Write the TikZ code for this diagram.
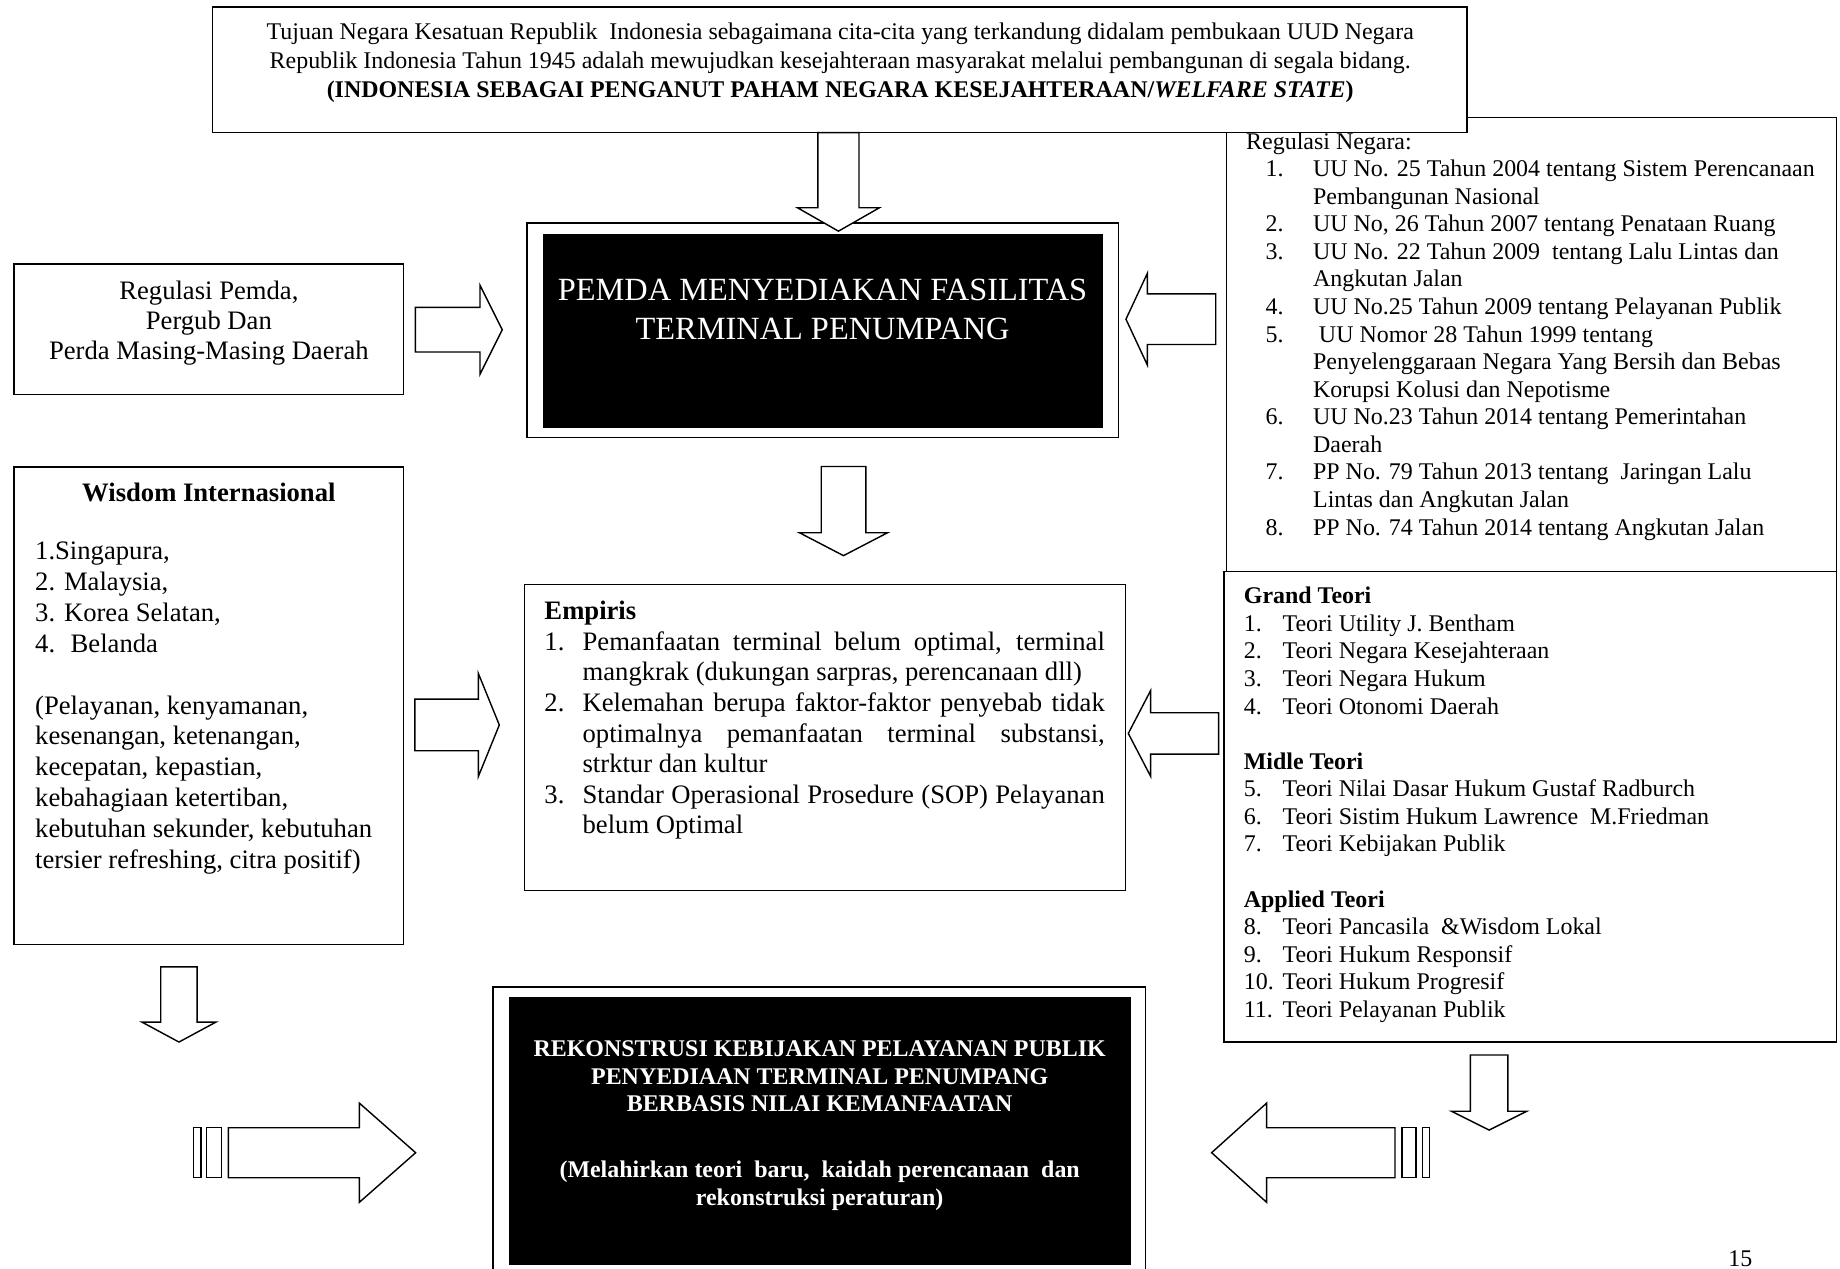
\documentclass[tikz,border=0pt]{standalone}
\usepackage{fontspec}
\setmainfont{Liberation Serif}
\usepackage{array}
\newcommand\fsz[2]{\fontsize{#1}{#2}\selectfont}
% horizontal block arrow: #1 shaft end x, #2 head base x, #3 tip x, #4 centre y, #5 shaft half, #6 head half, #7 tip name
\newcommand\hblockarrow[7]{\draw[blk] (#1,#4-#5) -- (#2,#4-#5) -- (#2,#4-#6) -- (#3,#4) coordinate (#7) -- (#2,#4+#6) -- (#2,#4+#5) -- (#1,#4+#5) -- cycle;}
% vertical block arrow: #1 centre x, #2 shaft top, #3 head base y, #4 tip y, #5 shaft half, #6 head half, #7 tip name
\newcommand\vblockarrow[7]{\draw[blk] (#1-#5,#2) -- (#1-#5,#3) -- (#1-#6,#3) -- (#1,#4) coordinate (#7) -- (#1+#6,#3) -- (#1+#5,#3) -- (#1+#5,#2) -- cycle;}
\begin{document}
\begin{tikzpicture}[x=0.5pt,y=-0.5pt,
  box/.style={draw=black,line width=0.6pt,fill=white,inner sep=0pt,outer sep=0pt,anchor=north west},
  darkbox/.style={box,fill=black},
  blk/.style={draw=black,line width=0.6pt,fill=white,line join=miter},
  txt/.style={inner sep=0pt,outer sep=0pt},
  wtxt/.style={txt,text=white}]
\path[use as bounding box] (0,0) rectangle (1568,1081);
\clip (0,0) rectangle (1568,1081);

% ---------- boxes ----------
\node[box,minimum width=260pt,minimum height=193.5pt] (regneg) at (1045,100) {};
\node[box,minimum width=534.5pt,minimum height=53.5pt] (tujuan) at (181,6) {};
\node[box,minimum width=261pt,minimum height=200.5pt] (teori) at (1043,487) {};
\node[box,minimum width=252pt,minimum height=91.5pt] (pemda) at (449,190) {};
\node[darkbox,minimum width=238pt,minimum height=82pt] (pemdain) at (463,200) {};
\node[box,minimum width=166pt,minimum height=55.5pt] (regpemda) at (12,225) {};
\node[box,minimum width=166pt,minimum height=203.5pt] (wisdom) at (12,398) {};
\node[box,minimum width=256pt,minimum height=130.5pt] (empiris) at (447,498) {};
\node[box,minimum width=278pt,minimum height=124.5pt] (rek) at (420,841) {};
\node[darkbox,minimum width=264.5pt,minimum height=113.5pt] (rekin) at (434,850) {};

% ---------- texts ----------
\node[txt,anchor=base] (tujuantext) at (716,34) {\fsz{10.2}{12.25}\begin{tabular}[t]{@{}c@{}}
Tujuan Negara Kesatuan Republik~ Indonesia sebagaimana cita-cita yang terkandung didalam pembukaan UUD Negara\\
Republik Indonesia Tahun 1945 adalah mewujudkan kesejahteraan masyarakat melalui pembangunan di segala bidang.\\
\textbf{(INDONESIA SEBAGAI PENGANUT PAHAM NEGARA KESEJAHTERAAN/\textit{WELFARE STATE})}
\end{tabular}};

\node[txt,anchor=base west] (regnegtext) at (1062,127) {\fsz{10.2}{11.75}\begin{tabular}[t]{@{}l@{}}
Regulasi Negara:\\
\hspace*{8.25pt}\makebox[20.25pt][l]{1.}UU No. 25 Tahun 2004 tentang Sistem Perencanaan\\
\hspace*{28.5pt}Pembangunan Nasional\\
\hspace*{8.25pt}\makebox[20.25pt][l]{2.}UU No, 26 Tahun 2007 tentang Penataan Ruang\\
\hspace*{8.25pt}\makebox[20.25pt][l]{3.}UU No. 22 Tahun 2009~ tentang Lalu Lintas dan\\
\hspace*{28.5pt}Angkutan Jalan\\
\hspace*{8.25pt}\makebox[20.25pt][l]{4.}UU No.25 Tahun 2009 tentang Pelayanan Publik\\
\hspace*{8.25pt}\makebox[20.25pt][l]{5.}\hspace*{2.5pt}UU Nomor 28 Tahun 1999 tentang\\
\hspace*{28.5pt}Penyelenggaraan Negara Yang Bersih dan Bebas\\
\hspace*{28.5pt}Korupsi Kolusi dan Nepotisme\\
\hspace*{8.25pt}\makebox[20.25pt][l]{6.}UU No.23 Tahun 2014 tentang Pemerintahan\\
\hspace*{28.5pt}Daerah\\
\hspace*{8.25pt}\makebox[20.25pt][l]{7.}PP No. 79 Tahun 2013 tentang~ Jaringan Lalu\\
\hspace*{28.5pt}Lintas dan Angkutan Jalan\\
\hspace*{8.25pt}\makebox[20.25pt][l]{8.}PP No. 74 Tahun 2014 tentang Angkutan Jalan
\end{tabular}};

\node[txt,anchor=base west] (teoritext) at (1060,514.5) {\fsz{10.2}{11.75}\begin{tabular}[t]{@{}l@{}}
\textbf{Grand Teori}\\
\makebox[16.5pt][l]{1.}Teori Utility J. Bentham\\
\makebox[16.5pt][l]{2.}Teori Negara Kesejahteraan\\
\makebox[16.5pt][l]{3.}Teori Negara Hukum\\
\makebox[16.5pt][l]{4.}Teori Otonomi Daerah\\
\\
\textbf{Midle Teori}\\
\makebox[16.5pt][l]{5.}Teori Nilai Dasar Hukum Gustaf Radburch\\
\makebox[16.5pt][l]{6.}Teori Sistim Hukum Lawrence~ M.Friedman\\
\makebox[16.5pt][l]{7.}Teori Kebijakan Publik\\
\\
\textbf{Applied Teori}\\
\makebox[16.5pt][l]{8.}Teori Pancasila~ \&Wisdom Lokal\\
\makebox[16.5pt][l]{9.}Teori Hukum Responsif\\
\makebox[16.5pt][l]{10.}Teori Hukum Progresif\\
\makebox[16.5pt][l]{11.}Teori Pelayanan Publik
\end{tabular}};

\node[wtxt,anchor=base] (pemdatext) at (701,256) {\fsz{13.8}{16.5}\begin{tabular}[t]{@{}c@{}}
PEMDA MENYEDIAKAN FASILITAS\\
TERMINAL PENUMPANG
\end{tabular}};

\node[txt,anchor=base] (regpemdatext) at (178,255) {\fsz{11.35}{12.9}\begin{tabular}[t]{@{}c@{}}
Regulasi Pemda,\\
Pergub Dan\\
Perda Masing-Masing Daerah
\end{tabular}};

\node[txt,anchor=base] (wisdomtitle) at (178,427) {\fsz{11.35}{13}\textbf{Wisdom Internasional}};
\node[txt,anchor=base west] (wisdomtext) at (30,477) {\fsz{11.35}{13.15}\begin{tabular}[t]{@{}l@{}}
1.Singapura,\\
2. Malaysia,\\
3. Korea Selatan,\\
4.~ Belanda\\
\\
(Pelayanan, kenyamanan,\\
kesenangan, ketenangan,\\
kecepatan, kepastian,\\
kebahagiaan ketertiban,\\
kebutuhan sekunder, kebutuhan\\
tersier refreshing, citra positif)
\end{tabular}};

\node[txt,anchor=base west] (empiristext) at (464,528) {\fsz{11.35}{13.05}\begin{tabular}[t]{@{}l@{}}
\textbf{Empiris}\\
\makebox[16.25pt][l]{1.}\makebox[222.5pt][s]{Pemanfaatan terminal belum optimal, terminal}\\
\hspace*{16.25pt}mangkrak (dukungan sarpras, perencanaan dll)\\
\makebox[16.25pt][l]{2.}\makebox[222.5pt][s]{Kelemahan berupa faktor-faktor penyebab tidak}\\
\hspace*{16.25pt}\makebox[222.5pt][s]{optimalnya pemanfaatan terminal substansi,}\\
\hspace*{16.25pt}strktur dan kultur\\
\makebox[16.25pt][l]{3.}\makebox[222.5pt][s]{Standar Operasional Prosedure (SOP) Pelayanan}\\
\hspace*{16.25pt}belum Optimal
\end{tabular}};

\node[wtxt,anchor=base] (rektext) at (698.5,900.5) {\fsz{10.2}{11.75}\bfseries\begin{tabular}[t]{@{}c@{}}
REKONSTRUSI KEBIJAKAN PELAYANAN PUBLIK\\
PENYEDIAAN TERMINAL PENUMPANG\\
BERBASIS NILAI KEMANFAATAN
\end{tabular}};
\node[wtxt,anchor=base] (rektext2) at (698.5,1003.5) {\fsz{10.2}{11.75}\bfseries\begin{tabular}[t]{@{}c@{}}
(Melahirkan teori~ baru,~ kaidah perencanaan~ dan\\
rekonstruksi peraturan)
\end{tabular}};

\node[txt,anchor=base] (pagenum) at (1483,1079) {\fsz{10.2}{12}15};

% ---------- block arrows ----------
\vblockarrow{714.5}{113}{177}{197}{17.5}{35}{a1}
\vblockarrow{718.8}{397.5}{454}{473.5}{19}{37.5}{a2}
\vblockarrow{152.5}{824}{871}{888}{15.5}{31.5}{a3}
\vblockarrow{1269}{899}{947}{963}{16}{32}{a4}
\hblockarrow{354}{409}{428}{281}{19}{38}{r1}
\hblockarrow{353.5}{407.6}{425.5}{617.8}{22}{44}{r2}
\hblockarrow{1036}{977.7}{959.5}{272}{21.6}{39}{l1}
\hblockarrow{1038.5}{980.5}{961.5}{625}{17.6}{36.5}{l2}
% striped arrows
\hblockarrow{194.6}{306.2}{354.2}{982.3}{21.3}{42.3}{sr}
\draw[blk] (164.7,961) rectangle (171.3,1003.6);
\draw[blk] (176.1,961) rectangle (188.9,1003.6);
\hblockarrow{1188.8}{1079.4}{1032.5}{982.3}{21.3}{42.3}{sl}
\draw[blk] (1194.7,961) rectangle (1206.7,1003.6);
\draw[blk] (1212.3,961) rectangle (1218,1003.6);
\end{tikzpicture}
\end{document}
